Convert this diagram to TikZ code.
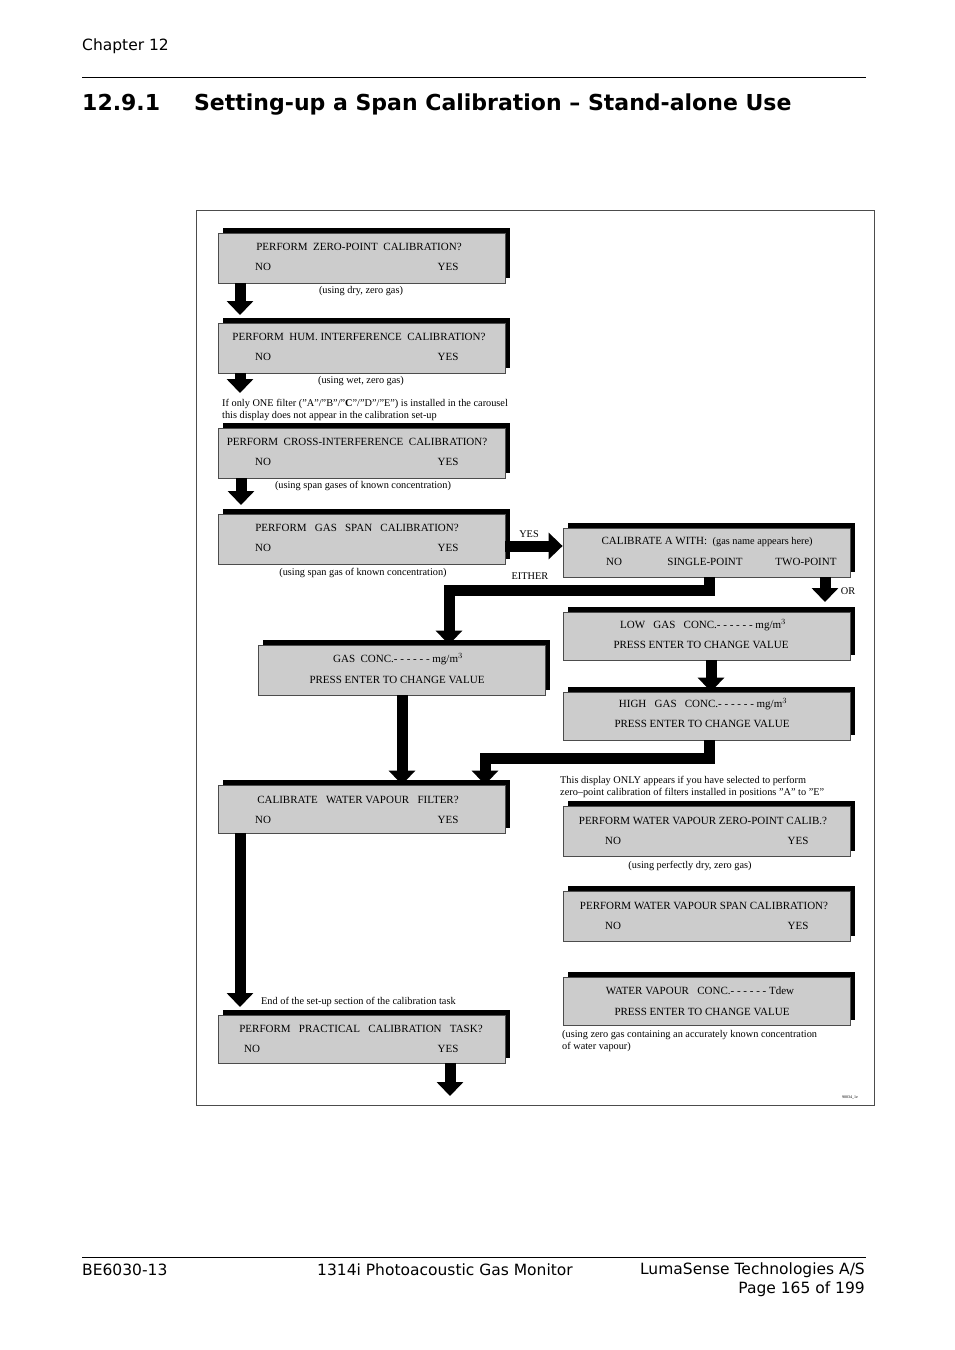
\documentclass[tikz,border=0pt]{standalone}
\usepackage{fontspec}
\setmainfont{Liberation Serif}
\newfontfamily\dv{DejaVu Sans}
\usetikzlibrary{arrows.meta,shadows}
\begin{document}
\begin{tikzpicture}[x=1pt,y=-1pt,
  dbox/.style={draw=black!70,fill=black!20,line width=0.8pt,inner sep=0,
    general shadow={fill=black,shadow xshift=5pt,shadow yshift=5pt}},
  t/.style={font=\fontsize{11}{12}\selectfont,inner sep=0},
  n/.style={font=\fontsize{10.3}{12}\selectfont,inner sep=0},
  barrow/.style={line width=11pt,line join=miter,-{Triangle[width=26pt,length=14pt]}},
  pg/.style={font=\dv\fontsize{15.5}{17}\selectfont,inner sep=0}]
\useasboundingbox (0,0) rectangle (954,1350);
% page header / footer
\node[pg,anchor=west] (ch) at (82,46) {Chapter 12};
\draw[line width=0.5pt] (82,77) -- (866,77);
\node[pg,anchor=west,font=\dv\bfseries\fontsize{22}{24}\selectfont] (title) at (82,105) {12.9.1\hspace{34pt}Setting-up a Span Calibration – Stand-alone Use};
\draw[line width=0.5pt] (82,1257) -- (866,1257);
\node[pg,anchor=west] (f1) at (82,1270) {BE6030-13};
\node[pg] (f2) at (445,1270) {1314i Photoacoustic Gas Monitor};
\node[pg,anchor=east] (f3) at (865,1270) {LumaSense Technologies A/S};
\node[pg,anchor=east] (f4) at (865,1289) {Page 165 of 199};
% frame
\draw[line width=1pt,black!70] (196,210) rectangle (874,1105);
% boxes
\newcommand\mybox[5]{\node[dbox,minimum width={#4-#2},minimum height={#5-#3}] (#1) at ({(#2+#4)/2},{(#3+#5)/2}) {};}
\mybox{b1}{218}{233}{505}{283}
\mybox{b2}{218}{323}{505}{373}
\mybox{b3}{218}{428}{505}{478}
\mybox{b4}{218}{514}{505}{564}
\mybox{b5}{563}{528}{850}{577}
\mybox{b6}{563}{612}{850}{660}
\mybox{b7}{563}{692}{850}{740}
\mybox{b8}{258}{645}{545}{695}
\mybox{b9}{218}{785}{505}{833}
\mybox{b10}{218}{1015}{505}{1063}
\mybox{b11}{563}{806}{850}{856}
\mybox{b12}{563}{891}{850}{941}
\mybox{b13}{563}{977}{850}{1025}
% box texts
\node[t] (b1a) at (359,247) {PERFORM\ \ ZERO-POINT\ \ CALIBRATION?};
\node[t] (b1n) at (263,267) {NO}; \node[t] (b1y) at (448,267) {YES};
\node[t] (b2a) at (359,337) {PERFORM\ \ HUM. INTERFERENCE\ \ CALIBRATION?};
\node[t] (b2n) at (263,357) {NO}; \node[t] (b2y) at (448,357) {YES};
\node[t] (b3a) at (357,442) {PERFORM\ \ CROSS-INTERFERENCE\ \ CALIBRATION?};
\node[t] (b3n) at (263,462) {NO}; \node[t] (b3y) at (448,462) {YES};
\node[t] (b4a) at (357,528) {PERFORM\ \ \ GAS\ \ \ SPAN\ \ \ CALIBRATION?};
\node[t] (b4n) at (263,548) {NO}; \node[t] (b4y) at (448,548) {YES};
\node[t] (b5a) at (707,542) {CALIBRATE A WITH:\ \ {\fontsize{10.3}{12}\selectfont(gas name appears here)}};
\node[t] (b5n) at (614,562) {NO}; \node[t] (b5s) at (705,562) {SINGLE-POINT}; \node[t] (b5t) at (806,562) {TWO-POINT};
\node[t] (b6a) at (703,625) {LOW\ \ \ GAS\ \ \ CONC.- - - - - - mg/m$^3$};
\node[t] (b6b) at (701,645) {PRESS ENTER TO CHANGE VALUE};
\node[t] (b7a) at (703,704) {HIGH\ \ \ GAS\ \ \ CONC.- - - - - - mg/m$^3$};
\node[t] (b7b) at (702,724) {PRESS ENTER TO CHANGE VALUE};
\node[t] (b8a) at (398,659) {GAS\ \ CONC.- - - - - - mg/m$^3$};
\node[t] (b8b) at (397,680) {PRESS ENTER TO CHANGE VALUE};
\node[t] (b9a) at (358,800) {CALIBRATE\ \ \ WATER VAPOUR\ \ \ FILTER?};
\node[t] (b9n) at (263,820) {NO}; \node[t] (b9y) at (448,820) {YES};
\node[t] (b10a) at (361,1029) {PERFORM\ \ \ PRACTICAL\ \ \ CALIBRATION\ \ \ TASK?};
\node[t] (b10n) at (252,1049) {NO}; \node[t] (b10y) at (448,1049) {YES};
\node[t] (b11a) at (703,821) {PERFORM WATER VAPOUR ZERO-POINT CALIB.?};
\node[t] (b11n) at (613,841) {NO}; \node[t] (b11y) at (798,841) {YES};
\node[t] (b12a) at (704,906) {PERFORM WATER VAPOUR SPAN CALIBRATION?};
\node[t] (b12n) at (613,926) {NO}; \node[t] (b12y) at (798,926) {YES};
\node[t] (b13a) at (700,991) {WATER VAPOUR\ \ \ CONC.- - - - - - Tdew};
\node[t] (b13b) at (702,1012) {PRESS ENTER TO CHANGE VALUE};
% notes
\node[n] (n1) at (361,291) {(using dry, zero gas)};
\node[n] (n2) at (361,381) {(using wet, zero gas)};
\node[n,anchor=west] (n3) at (222,404) {If only ONE filter ("A"/"B"/"\textbf{C}"/"D"/"E") is installed in the carousel};
\node[n,anchor=west] (n4) at (222,416) {this display does not appear in the calibration set-up};
\node[n] (n5) at (363,486) {(using span gases of known concentration)};
\node[n] (n6) at (363,573) {(using span gas of known concentration)};
\node[n] (yes) at (529,534) {YES};
\node[n] (either) at (530,576) {EITHER};
\node[n] (or) at (848,591) {OR};
\node[n,anchor=west] (n7) at (560,781) {This display ONLY appears if you have selected to perform};
\node[n,anchor=west] (n8) at (560,793) {zero--point calibration of filters installed in positions "A" to "E"};
\node[n] (n9) at (690,866) {(using perfectly dry, zero gas)};
\node[n,anchor=west] (n10) at (261,1002) {End of the set-up section of the calibration task};
\node[n,anchor=west] (n11) at (562,1035) {(using zero gas containing an accurately known concentration};
\node[n,anchor=west] (n12) at (562,1047) {of water vapour)};
\node[inner sep=0,font=\fontsize{4}{5}\selectfont] (code) at (850,1097) {90034\_1e};
% arrows
\coordinate (e1) at (240,315); \draw[barrow] (b1.south -| e1) -- (e1);
\coordinate (e2) at (240,393); \draw[barrow] (b2.south -| e2) -- (e2);
\coordinate (e3) at (241,505); \draw[barrow] (b3.south -| e3) -- (e3);
\draw[barrow] (b4.east |- 0,546) -- (b5.west |- 0,546);
\coordinate (s1) at (709,577);
\draw[barrow] (s1) -- (709,590) -- (449,590) -- (b8.north -| 449,0);
\coordinate (e4) at (825,602); \draw[barrow] (b5.south -| e4) -- (e4);
\draw[barrow] (b6.south -| 711,0) -- (b7.north -| 711,0);
\draw[barrow] (b8.south -| 402,0) -- (b9.north -| 402,0);
\draw[barrow] (b7.south -| 709,0) -- (709,758) -- (485,758) -- (b9.north -| 485,0);
\coordinate (e5) at (240,1007); \draw[barrow] (b9.south -| e5) -- (e5);
\coordinate (e6) at (450,1096); \draw[barrow] (b10.south -| e6) -- (e6);
\end{tikzpicture}
\end{document}
